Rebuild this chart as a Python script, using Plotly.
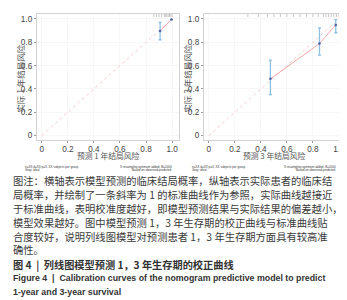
import plotly.graph_objects as go

W, H = 347, 300

# ---- data ----
ticks = [0, 0.2, 0.4, 0.6, 0.8, 1.0]
tick_text_x = ["0", "0.2", "0.4", "0.6", "0.8", "1.0"]
tick_text_y = ["0", "0.2", "0.4", "0.6", "0.8", "1.0"]

pred_1y = [0.908, 0.995]
obs_1y = [0.897, 0.995]
err_hi_1y = [0.074, 0.0]
err_lo_1y = [0.075, 0.0]
rug_1y = [0.86, 0.88, 0.9, 0.92, 0.94, 0.95, 0.96, 0.97, 0.98, 0.99, 1.0]

pred_3y = [0.473, 0.85, 0.975]
obs_3y = [0.487, 0.789, 0.949]
err_hi_3y = [0.161, 0.135, 0.045]
err_lo_3y = [0.135, 0.099, 0.067]
rug_3y = [0.3, 0.38, 0.45, 0.5, 0.55, 0.6, 0.65, 0.7, 0.75, 0.8, 0.84, 0.88, 0.9, 0.92, 0.94, 0.96, 0.98, 1.0]

ideal = [0, 1]

x_titles = ["预测 1 年结局风险", "预测 3 年结局风险"]
y_titles = ["实际 1 年结局风险", "实际 3 年结局风险"]
legend_left = ["n=XX d=XX p=X, XX subjects per group", "Gray: ideal"]
legend_right = ["X resampling optimism added, B=1000", "Based on observed-predicted"]

caption_lines = [
    "图注：横轴表示模型预测的临床结局概率，纵轴表示实际患者的临床结",
    "局概率，并绘制了一条斜率为 1 的标准曲线作为参照，实际曲线越接近",
    "于标准曲线，表明校准度越好，即模型预测结果与实际结果的偏差越小，",
    "模型效果越好。图中模型预测 1，3 年生存期的校正曲线与标准曲线贴",
    "合度较好，说明列线图模型对预测患者 1，3 年生存期方面具有较高准",
    "确性。",
]
fig_title_cn = "图 4 &nbsp;|&nbsp; 列线图模型预测 1，3 年生存期的校正曲线"
fig_title_en = ["Figure 4 &nbsp;|&nbsp; Calibration curves of the nomogram predictive model to predict",
                "1-year and 3-year survival"]

# ---- layout helpers ----
def px_x(p):
    return p / W

def px_y(p):
    return 1 - p / H

panels = [
    dict(x0=29, x1=172, y0=6, y1=132, xr=[-0.038, 1.053], yr=[-0.034, 1.043]),
    dict(x0=197, x1=337, y0=6, y1=132, xr=[-0.038, 1.031], yr=[-0.034, 1.043]),
]

fig = go.Figure()

CJK = "Noto Sans CJK SC"
TICKF = dict(family="Liberation Sans, Arial", size=8.2, color="#444")

datasets = [
    (pred_1y, obs_1y, err_hi_1y, err_lo_1y, rug_1y),
    (pred_3y, obs_3y, err_hi_3y, err_lo_3y, rug_3y),
]

for i, (p, (px_, py_, eh, el, rug)) in enumerate(zip(panels, datasets)):
    xa = "x" if i == 0 else "x2"
    ya = "y" if i == 0 else "y2"
    # ideal line
    fig.add_trace(go.Scatter(x=ideal, y=ideal, mode="lines", xaxis=xa, yaxis=ya,
                             line=dict(color="#f4cccc", width=1, dash="dot"),
                             hoverinfo="skip", showlegend=False))
    # calibration curve
    fig.add_trace(go.Scatter(x=px_, y=py_, mode="lines", xaxis=xa, yaxis=ya,
                             line=dict(color="#f0aaaa", width=1),
                             showlegend=False))
    # points with error bars
    fig.add_trace(go.Scatter(x=px_, y=py_, mode="markers", xaxis=xa, yaxis=ya,
                             marker=dict(color="#4a5fa0", size=2.5),
                             error_y=dict(type="data", array=eh, arrayminus=el,
                                          color="#8cc0e2", thickness=1.3, width=1.5),
                             showlegend=False))
    # rug at top
    fig.add_trace(go.Scatter(x=rug, y=[1.035] * len(rug), mode="markers", xaxis=xa, yaxis=ya,
                             marker=dict(symbol="line-ns", size=3, line=dict(color="#c8c8c8", width=1)),
                             hoverinfo="skip", showlegend=False))

axis_common = dict(showline=True, mirror=True, linecolor="#d2d2d2", linewidth=1,
                   showgrid=True, gridcolor="#f7f7f7", zeroline=False,
                   ticks="outside", ticklen=2, tickcolor="#999", tickwidth=1,
                   tickfont=TICKF, tickvals=ticks)

for i, p in enumerate(panels):
    sfx = "" if i == 0 else "2"
    fig.update_layout(**{
        "xaxis" + sfx: dict(axis_common, domain=[px_x(p["x0"]), px_x(p["x1"])],
                            range=p["xr"], ticktext=tick_text_x,
                            anchor="y" + sfx),
        "yaxis" + sfx: dict(axis_common, domain=[px_y(p["y1"]), px_y(p["y0"])],
                            range=p["yr"], ticktext=tick_text_y,
                            anchor="x" + sfx),
    })

annotations = []
TINY = dict(family="Liberation Sans", size=3, color="#333")
for i, p in enumerate(panels):
    cx = (p["x0"] + p["x1"]) / 2
    annotations.append(dict(text=x_titles[i], x=px_x(cx + 1), y=px_y(147.8), xref="paper", yref="paper",
                            showarrow=False, xanchor="center", yanchor="middle", borderpad=0,
                            font=dict(family=CJK, size=7.8, color="#555")))
    annotations.append(dict(text=y_titles[i], x=px_x(p["x0"] - 17), y=px_y(70), xref="paper", yref="paper",
                            showarrow=False, xanchor="center", yanchor="middle", textangle=-90, borderpad=0,
                            font=dict(family=CJK, size=8.5, color="#555")))
    for k in range(2):
        yy = 159.5 + 3.4 * k
        annotations.append(dict(text=legend_left[k], x=px_x(p["x0"] - 13), y=px_y(yy), xref="paper", yref="paper",
                                showarrow=False, xanchor="left", yanchor="middle", borderpad=0,
                                font=TINY))
        annotations.append(dict(text=legend_right[k], x=px_x(p["x1"] - 6), y=px_y(yy), xref="paper", yref="paper",
                                showarrow=False, xanchor="right", yanchor="middle", borderpad=0,
                                font=TINY))

cap_y0 = 172.8
for k, line in enumerate(caption_lines):
    annotations.append(dict(text=line, x=px_x(4), y=px_y(cap_y0 + 14 * k), xref="paper", yref="paper",
                            showarrow=False, xanchor="left", yanchor="middle", borderpad=0,
                            font=dict(family=CJK, size=10.3, color="#3a3a3a")))

annotations.append(dict(text="<b>" + fig_title_cn + "</b>", x=px_x(4), y=px_y(257), xref="paper", yref="paper",
                        showarrow=False, xanchor="left", yanchor="middle", borderpad=0,
                        font=dict(family=CJK, size=10.2, color="#333")))
for k, line in enumerate(fig_title_en):
    annotations.append(dict(text="<b>" + line + "</b>", x=px_x(4), y=px_y(271 + 14 * k), xref="paper", yref="paper",
                            showarrow=False, xanchor="left", yanchor="middle", borderpad=0,
                            font=dict(family="Liberation Sans", size=8.8, color="#333")))

fig.update_layout(width=W, height=H, margin=dict(l=0, r=0, t=0, b=0),
                  paper_bgcolor="white", plot_bgcolor="white",
                  annotations=annotations, showlegend=False)

fig.write_html("out.html")
